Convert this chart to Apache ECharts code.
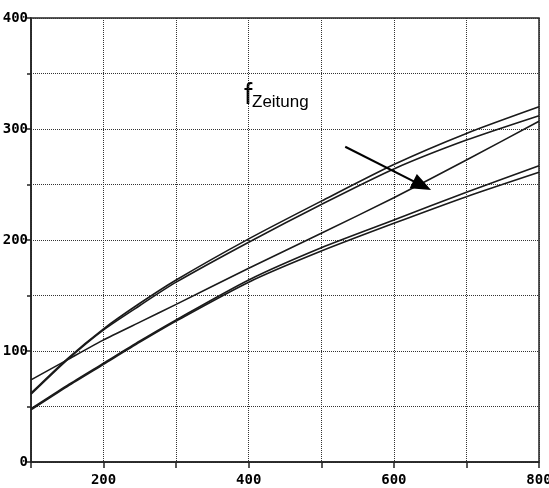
<!DOCTYPE html>
<html>
<head>
<meta charset="utf-8">
<script src="https://cdn.jsdelivr.net/npm/echarts@6/dist/echarts.min.js"></script>
<style>html,body{margin:0;padding:0;background:#fff}#c{width:549px;height:488px}</style>
</head>
<body>
<div id="c"></div>
<script>
var xValues = [100, 150, 200, 250, 300, 400, 500, 600, 700, 800];
var upperA = [62, 93, 120, 143, 164, 201, 235, 268, 296, 320];
var upperB = [61, 92, 119, 141, 162, 198, 232, 264, 290, 312];
var straight = [74, 92, 110, 126, 142, 174.5, 206, 238, 272, 307];
var lowerA = [48, 69, 89, 109, 128, 164, 193, 218, 243, 267];
var lowerB = [47, 68, 88, 108, 127, 162, 190, 215, 239, 261];
var xTickLabels = [200, 400, 600, 800];
var yTickLabels = [0, 100, 200, 300, 400];
var arrowFrom = [533, 284];
var arrowTo = [639, 249];

function pairs(ys){ return xValues.map(function(x,i){ return [x, ys[i]]; }); }
var lineStyle = {color:'#1a1a1a', width:1.6};
function mk(name, ys, sm){
  return {name:name, type:'line', data:pairs(ys), smooth:sm, showSymbol:false, lineStyle:lineStyle, silent:true, animation:false};
}
var series = [mk('a',upperA,0.25), mk('b',upperB,0.25), mk('c',straight,0.15), mk('d',lowerA,0.25), mk('e',lowerB,0.25)];
series[2].markLine = {
  silent:true, animation:false, symbol:['none','triangle'], symbolSize:[16,20],
  lineStyle:{color:'#000', width:2, type:'solid'}, label:{show:false},
  data:[[{coord:arrowFrom},{coord:arrowTo}]]
};
var axisFont = {fontFamily:'"DejaVu Sans Mono", monospace', fontWeight:'bold', fontSize:14, color:'#000'};
var chart = echarts.init(document.getElementById('c'));
chart.setOption({
  backgroundColor:'#fff',
  animation:false,
  grid:{left:31, right:10, top:18, bottom:26, outerBoundsMode:'none', containLabel:false, show:true, borderColor:'#222', borderWidth:1.5, backgroundColor:'transparent'},
  xAxis:{type:'value', min:100, max:800, interval:100,
    axisLine:{show:true, lineStyle:{color:'#222', width:1.5}},
    axisTick:{show:true, length:6, lineStyle:{color:'#222', width:1.5}},
    axisLabel:Object.assign({margin:11, formatter:function(v){return xTickLabels.indexOf(v)>=0?String(v):'';}}, axisFont),
    splitLine:{show:true, lineStyle:{type:'dotted', color:'#333', width:1}}
  },
  yAxis:{type:'value', min:0, max:400, interval:50,
    axisLine:{show:true, lineStyle:{color:'#222', width:1.5}},
    axisTick:{show:true, length:4, lineStyle:{color:'#222', width:1.5}},
    axisLabel:Object.assign({margin:3, formatter:function(v){return yTickLabels.indexOf(v)>=0?String(v):'';}}, axisFont),
    splitLine:{show:true, lineStyle:{type:'dotted', color:'#333', width:1}}
  },
  graphic:[
    {type:'text', left:244, top:81, silent:true, style:{text:'f', font:'30px "Liberation Sans"', fill:'#000'}},
    {type:'text', left:252, top:94, silent:true, style:{text:'Zeitung', font:'17px "Liberation Sans"', fill:'#000'}}
  ],
  series:series
});
</script>
</body>
</html>
